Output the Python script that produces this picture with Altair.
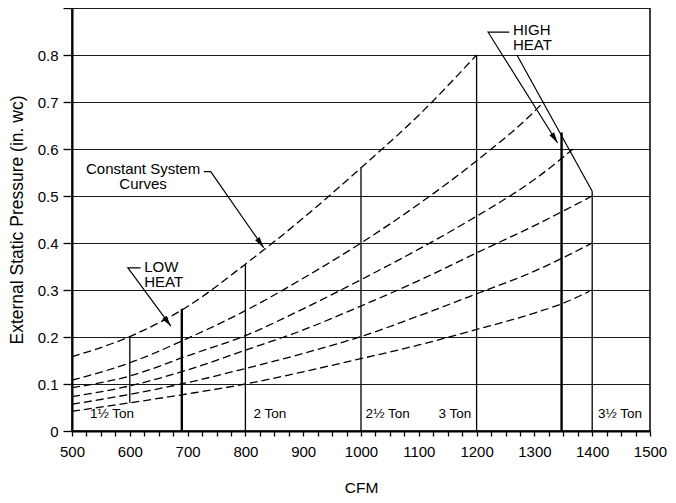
import math
import altair as alt
import pandas as pd

# ---- data ----
curve_ids = ["c1", "c2", "c3", "c4", "c5", "c6"]
c1_cfm = [500, 600, 700, 800, 900, 1000, 1100, 1200]
c1_p = [0.158, 0.201, 0.265, 0.355, 0.453, 0.560, 0.672, 0.800]
c2_cfm = [500, 600, 700, 800, 900, 1000, 1100, 1200, 1300, 1316]
c2_p = [0.108, 0.145, 0.197, 0.256, 0.325, 0.400, 0.483, 0.575, 0.680, 0.700]
c3_cfm = [500, 600, 700, 800, 900, 1000, 1100, 1200, 1300, 1367]
c3_p = [0.092, 0.117, 0.160, 0.203, 0.260, 0.322, 0.387, 0.457, 0.535, 0.600]
c4_cfm = [500, 600, 700, 800, 900, 1000, 1100, 1200, 1300, 1400]
c4_p = [0.073, 0.096, 0.130, 0.172, 0.215, 0.266, 0.320, 0.379, 0.437, 0.500]
c5_cfm = [500, 600, 700, 800, 900, 1000, 1100, 1200, 1300, 1400]
c5_p = [0.057, 0.078, 0.103, 0.133, 0.165, 0.201, 0.245, 0.292, 0.340, 0.400]
c6_cfm = [500, 600, 700, 800, 900, 1000, 1100, 1200, 1300, 1350, 1395]
c6_p = [0.042, 0.060, 0.079, 0.100, 0.126, 0.154, 0.183, 0.216, 0.251, 0.272, 0.297]

# vertical CFM lines
v_cfm = [600, 690, 800, 1000, 1200, 1347, 1400]
v_bottom = [0.06, 0, 0, 0, 0, 0, 0]
v_top = [0.201, 0.26, 0.355, 0.56, 0.80, 0.635, 0.51]
v_kind = ["thin", "thick", "thin", "thin", "thin", "thick", "thin"]

# tonnage labels
ton_text = ["1½ Ton", "2 Ton", "2½ Ton", "3 Ton", "3½ Ton"]
ton_cfm = [531, 814, 1008, 1134, 1410]
ton_p = [0.037, 0.037, 0.037, 0.037, 0.037]

# annotation texts (two-line blocks, anchored at the first line)
note_text = ["Constant System\nCurves", "LOW\nHEAT", "HIGH\nHEAT"]
note_cfm = [623, 625, 1263]
note_p = [0.5564, 0.3492, 0.8527]
note_align = ["center", "left", "left"]

# leader lines (points in order; last point of arrowed leaders is the tip)
lead_id = ["sys", "sys", "sys", "low", "low", "low", "hi1", "hi1", "hi1", "hi2", "hi2"]
lead_cfm = [728, 740, 831.6, 618.6, 596.7, 671.1, 1256.5, 1219.9, 1340.2, 1269.8, 1400]
lead_p = [0.552, 0.552, 0.390, 0.347, 0.347, 0.223, 0.8485, 0.8485, 0.6127, 0.800, 0.51]
arrow_leaders = ["sys", "low", "hi1"]

W, H = 578, 423
XMIN, XMAX, YMIN, YMAX = 500, 1500, 0, 0.9

# ---- tables ----
curve_rows = []
for cid, xs, ys in zip(curve_ids,
                       [c1_cfm, c2_cfm, c3_cfm, c4_cfm, c5_cfm, c6_cfm],
                       [c1_p, c2_p, c3_p, c4_p, c5_p, c6_p]):
    for x, y in zip(xs, ys):
        curve_rows.append({"curve": cid, "cfm": x, "p": y})
curves_df = pd.DataFrame(curve_rows)

vlines_df = pd.DataFrame({"cfm": v_cfm, "p": v_bottom, "p2": v_top, "kind": v_kind})
ton_df = pd.DataFrame({"label": ton_text, "cfm": ton_cfm, "p": ton_p})
lead_df = pd.DataFrame({"leader": lead_id, "cfm": lead_cfm, "p": lead_p,
                        "seq": list(range(len(lead_id)))})

sx = W / (XMAX - XMIN)
sy = H / (YMAX - YMIN)
arrow_rows = []
for lid in arrow_leaders:
    sub = lead_df[lead_df.leader == lid]
    (x0, y0), (x1, y1) = sub[["cfm", "p"]].values[-2], sub[["cfm", "p"]].values[-1]
    dx = (x1 - x0) * sx
    dy = -(y1 - y0) * sy
    ang = math.degrees(math.atan2(dx, -dy)) % 360
    arrow_rows.append({"cfm": x1, "p": y1, "ang": ang})
arrow_df = pd.DataFrame(arrow_rows)

note_df = pd.DataFrame({"label": note_text, "cfm": note_cfm, "p": note_p, "al": note_align})

FONT = "Liberation Sans"

xscale = alt.Scale(domain=[XMIN, XMAX], nice=False, zero=False)
yscale = alt.Scale(domain=[YMIN, YMAX], nice=False)

x_ticks = list(range(500, 1501, 25))
y_ticks = [round(i * 0.1, 1) for i in range(0, 10)]

xaxis = alt.Axis(values=x_ticks, title="CFM", grid=False,
                 labelExpr="datum.value % 100 == 0 ? format(datum.value, 'd') : ''",
                 labelOverlap=False, labelFlush=False, tickSize=5, tickWidth=1.3,
                 tickColor="black", domainColor="black", domainWidth=2,
                 labelFontSize=15, labelPadding=8, labelColor="black", labelFont=FONT,
                 titleFontSize=15.5, titleFontWeight="normal", titleFont=FONT,
                 titlePadding=21, titleColor="black")
yaxis = alt.Axis(values=y_ticks, title="External Static Pressure (in. wc)", grid=True,
                 gridColor="#1a1a1a", gridWidth=1.2, gridOpacity=1,
                 labelExpr="datum.value == 0 ? '0' : (datum.value > 0.85 ? '' : format(datum.value, '.1f'))",
                 labelOverlap=False, tickSize=9, tickWidth=1.3, tickColor="black",
                 domainColor="black", domainWidth=2,
                 labelFontSize=15, labelPadding=5, labelColor="black", labelFont=FONT,
                 titleFontSize=17.5, titleFontWeight="normal", titleFont=FONT,
                 titlePadding=11, titleColor="black")


def X(field="cfm"):
    return alt.X(f"{field}:Q", scale=xscale, axis=xaxis)


def Y(field="p"):
    return alt.Y(f"{field}:Q", scale=yscale, axis=yaxis)


curves = alt.Chart(curves_df).mark_line(
    color="black", strokeWidth=1.3, strokeDash=[8, 4], interpolate="monotone"
).encode(x=X(), y=Y(), detail="curve:N")

vlines = alt.Chart(vlines_df).mark_rule(color="black").encode(
    x=X(), y=Y(), y2="p2:Q",
    strokeWidth=alt.StrokeWidth("kind:N", scale=alt.Scale(domain=["thin", "thick"], range=[1.3, 2.4]),
                                legend=None))

leaders = alt.Chart(lead_df).mark_line(color="black", strokeWidth=1.2).encode(
    x=X(), y=Y(), detail="leader:N", order="seq:Q")

arrows = alt.Chart(arrow_df).mark_point(
    shape="M0,0 L-0.25,1 L0.25,1 Z", filled=True, color="black", opacity=1, size=484
).encode(x=X(), y=Y(), angle=alt.Angle("ang:Q", scale=None))

tons = alt.Chart(ton_df).mark_text(
    align="left", baseline="middle", font=FONT, fontSize=13.5, color="black"
).encode(x=X(), y=Y(), text="label:N")

notes_c = alt.Chart(note_df[note_df.al == "center"]).mark_text(
    align="center", baseline="middle", font=FONT, fontSize=15, color="black",
    lineBreak="\n", lineHeight=15
).encode(x=X(), y=Y(), text="label:N")

notes_l = alt.Chart(note_df[note_df.al == "left"]).mark_text(
    align="left", baseline="middle", font=FONT, fontSize=15, color="black",
    lineBreak="\n", lineHeight=15
).encode(x=X(), y=Y(), text="label:N")

chart = alt.layer(curves, vlines, leaders, arrows, tons, notes_c, notes_l).properties(
    width=W, height=H,
    autosize=alt.AutoSizeParams(type="none"),
    padding={"left": 64, "top": 0, "right": 18, "bottom": 63},
    background="white"
).configure_view(stroke="black", strokeWidth=1.5)

chart.save("out.html", embed_options={"renderer": "svg", "actions": False})
